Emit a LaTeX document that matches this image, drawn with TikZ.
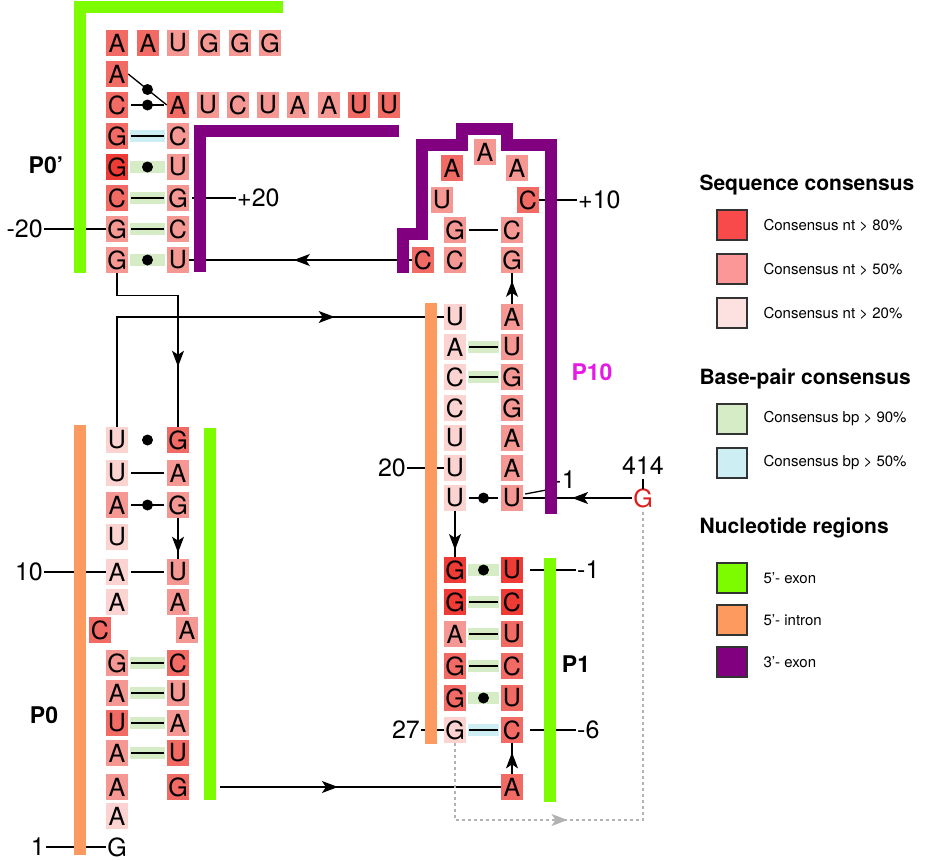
\documentclass[tikz,border=0pt]{standalone}
\usepackage{fontspec}
\setmainfont{TeX Gyre Heros}
\usetikzlibrary{calc,arrows.meta,decorations.markings}
\definecolor{cE}{HTML}{EE3B35}
\definecolor{cD}{HTML}{F26A64}
\definecolor{cM}{HTML}{F59893}
\definecolor{cL}{HTML}{FBD3D1}
\definecolor{lg80}{HTML}{F84A4A}
\definecolor{lg50}{HTML}{FB9797}
\definecolor{lg20}{HTML}{FDE0E0}
\definecolor{bpg}{HTML}{D6ECC7}
\definecolor{bpb}{HTML}{CDEEF2}
\definecolor{exg}{HTML}{7DFC00}
\definecolor{intr}{HTML}{FC9A60}
\definecolor{purp}{HTML}{800080}
\definecolor{mag}{HTML}{E619E6}
\newcommand\nuc[5]{\node[nt,fill=#5] (#1) at (#2,#3) {#4};}
\newcommand\pbg[3]{\fill[#3] ($(#1.east)+(2,-6)$) rectangle ($(#2.west)+(-2,6)$);}
\newcommand\pln[2]{\draw[bond] ($(#1.east)+(3,0)$) -- ($(#2.west)+(-3,0)$);}
\newcommand\pdt[2]{\fill ($(#1.east)!0.5!(#2.west)$) circle (5.5pt);}
\begin{document}
\begin{tikzpicture}[x=1pt,y=-1pt,
  nt/.style={minimum width=22pt,minimum height=26pt,inner sep=0pt,font=\fontsize{25}{25}\selectfont},
  bond/.style={line width=1.3pt},
  con/.style={line width=1.3pt},
  lab/.style={font=\fontsize{25}{25}\selectfont,inner sep=1pt},
  plab/.style={font=\fontsize{23}{23}\selectfont\bfseries},
  mid/.style={postaction=decorate,decoration={markings,mark=at position #1 with {\arrow{Stealth[length=16pt,width=12pt,inset=4pt]}}}},
  bar/.style={line width=12pt},
  lbox/.style={draw=black!80,line width=1.2pt,minimum width=30pt,minimum height=30pt,inner sep=0pt},
  ltxt/.style={font=\fontsize{15}{15}\selectfont,anchor=west},
  ltit/.style={font=\fontsize{21}{21}\selectfont\bfseries,anchor=west}]
\useasboundingbox (0,0) rectangle (947,860);
% ---------- top (P0') ----------
\nuc{h1}{117}{43}{A}{cD}\nuc{h2}{148}{43}{A}{cD}\nuc{h3}{178}{43}{U}{cM}
\nuc{h4}{209}{43}{G}{cM}\nuc{h5}{240}{43}{G}{cM}\nuc{h6}{270}{43}{G}{cM}
\nuc{t1l}{117}{74}{A}{cD}
\nuc{t2l}{117}{105}{C}{cD}\nuc{t2r}{178}{105}{A}{cD}
\nuc{u1}{208}{105}{U}{cM}\nuc{u2}{238}{105}{C}{cM}\nuc{u3}{268}{105}{U}{cM}
\nuc{u4}{298}{105}{A}{cM}\nuc{u5}{329}{105}{A}{cM}\nuc{u6}{359}{105}{U}{cD}\nuc{u7}{389}{105}{U}{cD}
\nuc{t3l}{117}{136}{G}{cD}\nuc{t3r}{178}{136}{C}{cM}
\nuc{t4l}{117}{167}{G}{cE}\nuc{t4r}{178}{167}{U}{cM}
\nuc{t5l}{117}{198}{C}{cD}\nuc{t5r}{178}{198}{G}{cM}
\nuc{t6l}{117}{229}{G}{cM}\nuc{t6r}{178}{229}{C}{cM}
\nuc{t7l}{117}{260}{G}{cM}\nuc{t7r}{178}{260}{U}{cM}
\draw[bond] (t1l.east) -- (t2r.west); \fill ($(t1l.east)!0.5!(t2r.west)$) circle (5.5pt);
\pln{t2l}{t2r}\pdt{t2l}{t2r}
\pbg{t3l}{t3r}{bpb}\pln{t3l}{t3r}
\pbg{t4l}{t4r}{bpg}\pdt{t4l}{t4r}
\pbg{t5l}{t5r}{bpg}\pln{t5l}{t5r}
\pbg{t6l}{t6r}{bpg}\pln{t6l}{t6r}
\pbg{t7l}{t7r}{bpg}\pdt{t7l}{t7r}
% ---------- P10 loop ----------
\nuc{k1}{452}{168}{A}{cD}\nuc{k2}{485}{152}{A}{cM}\nuc{k3}{517}{168}{A}{cM}
\nuc{k4}{442}{200}{U}{cM}\nuc{k5}{528}{200}{C}{cD}
\nuc{k6}{455}{230}{G}{cM}\nuc{k7}{512}{230}{C}{cM}
\nuc{k8}{423}{260}{C}{cD}\nuc{k9}{455}{260}{C}{cM}\nuc{k10}{512}{260}{G}{cM}
\pln{k6}{k7}
% ---------- P10 stem ----------
\nuc{s1l}{455}{317}{U}{cL}\nuc{s1r}{512}{317}{A}{cM}
\nuc{s2l}{455}{347}{A}{cL}\nuc{s2r}{512}{347}{U}{cM}
\nuc{s3l}{455}{377}{C}{cL}\nuc{s3r}{512}{377}{G}{cM}
\nuc{s4l}{455}{408}{C}{cL}\nuc{s4r}{512}{408}{G}{cM}
\nuc{s5l}{455}{438}{U}{cL}\nuc{s5r}{512}{438}{A}{cM}
\nuc{s6l}{455}{468}{U}{cL}\nuc{s6r}{512}{468}{A}{cM}
\nuc{s7l}{455}{498}{U}{cL}\nuc{s7r}{512}{498}{U}{cM}
\pbg{s2l}{s2r}{bpg}\pln{s2l}{s2r}
\pbg{s3l}{s3r}{bpg}\pln{s3l}{s3r}
\pln{s7l}{s7r}\pdt{s7l}{s7r}
\node[nt,text={rgb,255:red,220;green,30;blue,30}] (g414) at (643,498) {G};
% ---------- P1 ----------
\nuc{p1l}{455}{570}{G}{cE}\nuc{p1r}{512}{570}{U}{cE}
\nuc{p2l}{455}{602}{G}{cE}\nuc{p2r}{512}{602}{C}{cE}
\nuc{p3l}{455}{634}{A}{cM}\nuc{p3r}{512}{634}{U}{cD}
\nuc{p4l}{455}{666}{G}{cD}\nuc{p4r}{512}{666}{C}{cD}
\nuc{p5l}{455}{698}{G}{cD}\nuc{p5r}{512}{698}{U}{cD}
\nuc{p6l}{455}{730}{G}{cL}\nuc{p6r}{512}{730}{C}{cD}
\nuc{pa}{512}{787}{A}{cD}
\pbg{p1l}{p1r}{bpg}\pdt{p1l}{p1r}
\pbg{p2l}{p2r}{bpg}\pln{p2l}{p2r}
\pbg{p3l}{p3r}{bpg}\pln{p3l}{p3r}
\pbg{p4l}{p4r}{bpg}\pln{p4l}{p4r}
\pbg{p5l}{p5r}{bpg}\pdt{p5l}{p5r}
\pbg{p6l}{p6r}{bpb}\pln{p6l}{p6r}
% ---------- P0 ----------
\nuc{b1l}{117}{440}{U}{cL}\nuc{b1r}{178}{440}{G}{cD}
\nuc{b2l}{117}{473}{U}{cL}\nuc{b2r}{178}{473}{A}{cM}
\nuc{b3l}{117}{505}{A}{cM}\nuc{b3r}{178}{505}{G}{cM}
\nuc{b4l}{117}{537}{U}{cL}
\nuc{b5l}{117}{572}{A}{cL}\nuc{b5r}{178}{572}{U}{cM}
\nuc{b6l}{117}{602}{A}{cL}\nuc{b6r}{178}{602}{A}{cM}
\nuc{b7l}{100}{630}{C}{cD}\nuc{b7r}{187}{630}{A}{cM}
\nuc{b8l}{117}{663}{G}{cM}\nuc{b8r}{178}{663}{C}{cD}
\nuc{b9l}{117}{693}{A}{cM}\nuc{b9r}{178}{693}{U}{cM}
\nuc{b10l}{117}{723}{U}{cD}\nuc{b10r}{178}{723}{A}{cM}
\nuc{b11l}{117}{753}{A}{cM}\nuc{b11r}{178}{753}{U}{cD}
\nuc{b12l}{117}{787}{A}{cM}\nuc{b12r}{178}{787}{G}{cD}
\nuc{b13l}{117}{816}{A}{cL}
\node[nt] (b14l) at (117,847) {G};
\pdt{b1l}{b1r}
\pln{b2l}{b2r}
\pln{b3l}{b3r}\pdt{b3l}{b3r}
\pln{b5l}{b5r}
\pbg{b8l}{b8r}{bpg}\pln{b8l}{b8r}
\pbg{b9l}{b9r}{bpg}\pln{b9l}{b9r}
\pbg{b10l}{b10r}{bpg}\pln{b10l}{b10r}
\pbg{b11l}{b11r}{bpg}\pln{b11l}{b11r}
% ---------- connectors ----------
\draw[con,mid=0.72] (t7l.south) -- ++(0,22) -| (b1r.north);
\draw[con,mid=0.75] (b1l.north) |- (s1l.west);
\draw[con,mid=0.53] (k8.west) -- (t7r.east);
\draw[con,mid=0.75] (s1r.north) -- (k10.south);
\draw[con,mid=0.85] (s7l.south) -- (p1l.north);
\draw[con,mid=0.55] (g414.west) -- (s7r.east);
\coordinate (pst) at (220,787);
\draw[con,mid=0.42] (pst) -- (pa.west);
\draw[con,mid=0.7] (pa.north) -- (p6r.south);
\draw[con,mid=0.85] (b3r.south) -- (b5r.north);
\coordinate (gd1) at (455,820);
\coordinate (gd2) at (643,820);
\draw[line width=1.2pt,black!30,dashed,mid=0.33] (p6l.south) -- (gd1) -- (gd2) -- (g414.south);
% ---------- labels ----------
\node[lab,anchor=east] (l20m) at (44,229) {-20}; \draw[bond] (l20m.east) -- (t6l.west);
\node[lab,anchor=west] (l20p) at (236,198) {+20}; \draw[bond] ($(t5r.east)+(3,0)$) -- (l20p.west);
\node[lab,anchor=west] (l10p) at (577,200) {+10}; \draw[bond] (k5.east) -- (l10p.west);
\node[lab,anchor=east] (l20) at (407,468) {20}; \draw[bond] (l20.east) -- (s6l.west);
\node[lab,anchor=east] (l27) at (421,730) {27}; \draw[bond] (l27.east) -- (p6l.west);
\node[lab,anchor=west] (lm1) at (576,570) {-1}; \draw[bond] ($(p1r.east)+(7,0)$) -- (lm1.west);
\node[lab,anchor=west] (lm6) at (576,730) {-6}; \draw[bond] ($(p6r.east)+(7,0)$) -- (lm6.west);
\node[lab,anchor=east] (l10) at (44,572) {10}; \draw[bond] (l10.east) -- (b5l.west);
\node[lab,anchor=east] (l1) at (46,847) {1}; \draw[bond] (l1.east) -- (b14l.west);
\node[lab] (l414) at (643,466) {414}; \draw[bond] (643,479) -- (643,489);
\node[lab,anchor=west] (lp1) at (546,480) {+1}; \draw[bond] ($(s7r.east)+(2,-4)$) -- (lp1.south west);
\node[plab] (nP0p) at (46,165) {P0'};
\node[plab] (nP0) at (44,715) {P0};
\node[plab,text=mag] (nP10) at (592,372) {P10};
\node[plab] (nP1) at (576,664) {P1};
% ---------- bars ----------
\draw[bar,exg] (80,273) -- (80,6.5) -- (283,6.5);
\draw[bar,purp,line join=miter] (200,272) -- (200,131) -- (399,131);
\draw[bar,purp,line join=miter] (403,273) -- (403,234) -- (422,234) -- (422,145) -- (462,145) -- (462,129) -- (507,129) -- (507,145) -- (551,145) -- (551,514);
\draw[bar,intr] (431,303) -- (431,744);
\draw[bar,exg] (550,558) -- (550,802);
\draw[bar,intr] (80,425) -- (80,855);
\draw[bar,exg] (210,428) -- (210,800);
% ---------- legend ----------
\node[ltit] (lt1) at (696,185) {Sequence consensus};
\node[lbox,fill=lg80] (lb1) at (732,225) {}; \node[ltxt] (lx1) at (760,225) {Consensus nt > 80\%};
\node[lbox,fill=lg50] (lb2) at (732,269) {}; \node[ltxt] (lx2) at (760,269) {Consensus nt > 50\%};
\node[lbox,fill=lg20] (lb3) at (732,313) {}; \node[ltxt] (lx3) at (760,313) {Consensus nt > 20\%};
\node[ltit] (lt2) at (696,379) {Base-pair consensus};
\node[lbox,fill=bpg] (lb4) at (732,419) {}; \node[ltxt] (lx4) at (760,419) {Consensus bp > 90\%};
\node[lbox,fill=bpb] (lb5) at (732,463) {}; \node[ltxt] (lx5) at (760,463) {Consensus bp > 50\%};
\node[ltit] (lt3) at (696,528) {Nucleotide regions};
\node[lbox,fill=exg] (lb6) at (732,578) {}; \node[ltxt] (lx6) at (760,578) {5'- exon};
\node[lbox,fill=intr] (lb7) at (732,620) {}; \node[ltxt] (lx7) at (760,620) {5'- intron};
\node[lbox,fill=purp] (lb8) at (732,662) {}; \node[ltxt] (lx8) at (760,662) {3'- exon};
\end{tikzpicture}
\end{document}
